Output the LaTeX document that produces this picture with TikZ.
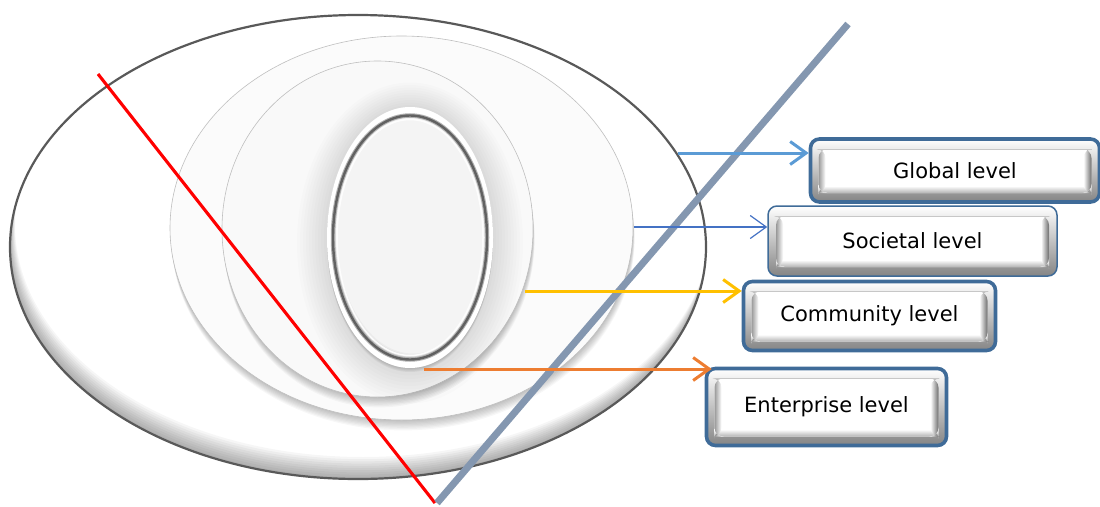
\documentclass[tikz,border=0pt]{standalone}
\usepackage{fontspec}
\newfontfamily\lblfont{DejaVu Sans}
\usetikzlibrary{arrows.meta,calc}

\definecolor{boxblue}{HTML}{3F6B98}
\definecolor{slateline}{HTML}{8497B0}
\definecolor{globalarr}{HTML}{5B9BD5}
\definecolor{socarr}{HTML}{4472C4}
\definecolor{commarr}{HTML}{FFC000}
\definecolor{entarr}{HTML}{ED7D31}
\definecolor{rimgray}{HTML}{595959}
\definecolor{ringgray}{HTML}{616161}
\definecolor{faceA}{HTML}{FBFBFB}
\definecolor{faceB}{HTML}{F9F9F9}
\definecolor{faceC}{HTML}{F4F4F4}

\tikzset{
  lvlbox/.style={rectangle, rounded corners=9pt, draw=boxblue, line width=3.6pt,
    top color=white, bottom color=black!48, inner sep=0pt, text=black,
    font=\lblfont\fontsize{21}{25}\selectfont,
    path picture={
      \coordinate (ia) at ([shift={(8pt,-10pt)}]path picture bounding box.north west);
      \coordinate (ib) at ([shift={(-8pt,9pt)}]path picture bounding box.south east);
      \fill[white] (ia) rectangle (ib);
      \shade[top color=white, bottom color=black!30] ([yshift=7pt]ia |- ib) rectangle (ib);
      \shade[left color=black!40, right color=white] (ia) rectangle ([xshift=7pt]ia |- ib);
      \shade[left color=white, right color=black!58] ([xshift=-8pt]ib |- ia) rectangle (ib);
      \draw[black!22, line width=1pt] (ia) -- (ia -| ib);
    }},
  levelarrow/.style={line width=3pt, -{Straight Barb[length=16pt,width=23pt]}},
  plate/.style={draw=black!25, line width=0.6pt}
}

\begin{document}
\begin{tikzpicture}[x=1pt,y=-1pt]
\useasboundingbox (0,0) rectangle (1100,506);

% outermost plate with a soft shadow along its lower inside edge
\fill[white] (358,247) ellipse [x radius=348pt, y radius=232pt];
\begin{scope}
  \clip (358,247) ellipse [x radius=348pt, y radius=232pt];
  \foreach \k in {1,...,10}
    \fill[black, opacity=0.035, even odd rule]
      (358,247) ellipse [x radius=348pt, y radius=232pt]
      (358+0.5*\k,247-2.2*\k) ellipse [x radius=348pt, y radius=232pt];
\end{scope}
\draw[rimgray, line width=2.2pt] (358,247) ellipse [x radius=348pt, y radius=232pt];

% second plate
\foreach \k in {1,...,8}
  \fill[black, opacity=0.03] (401.5+0.2*\k,228+1.3*\k) ellipse [x radius=231.5pt, y radius=192pt];
\fill[faceA] (401.5,228) ellipse [x radius=231.5pt, y radius=192pt];
\draw[plate] (401.5,228) ellipse [x radius=231.5pt, y radius=192pt];

% third plate
\foreach \k in {1,...,8}
  \fill[black, opacity=0.03] (377.5+0.2*\k,229+1.3*\k) ellipse [x radius=155.5pt, y radius=168pt];
\fill[faceB] (377.5,229) ellipse [x radius=155.5pt, y radius=168pt];
\draw[plate] (377.5,229) ellipse [x radius=155.5pt, y radius=168pt];

% central oval: halo, white rim, dark ring, face
\foreach \k in {1,...,10}
  \fill[black, opacity=0.01] (410,238+0.5*\k) ellipse [x radius=83pt+3*\k pt, y radius=130.5pt+3*\k pt];
\foreach \k in {1,...,5}
  \fill[black, opacity=0.035] (410,237.5+0.8*\k) ellipse [x radius=83pt, y radius=130.5pt];
\fill[white] (410,237.5) ellipse [x radius=83pt, y radius=130.5pt];
\fill[faceC] (410,237.5) ellipse [x radius=77pt, y radius=122pt];
\begin{scope}
  \clip (410,237.5) ellipse [x radius=77pt, y radius=122pt];
  \foreach \k in {1,...,5}
    \fill[black, opacity=0.03, even odd rule]
      (410,237.5) ellipse [x radius=77pt, y radius=122pt]
      (410+0.6*\k,237.5-1.2*\k) ellipse [x radius=77pt, y radius=122pt];
  \draw[white, line width=1.5pt, opacity=0.9] (410,237.5) ellipse [x radius=73pt, y radius=118pt];
\end{scope}
\draw[black!30, line width=4.5pt] (410,237.5) ellipse [x radius=77pt, y radius=122pt];
\draw[ringgray, line width=2.4pt] (410,237.5) ellipse [x radius=77pt, y radius=122pt];

% the two crossing lines
\coordinate (redA) at (98,74);
\coordinate (redB) at (435,503);
\draw[red, line width=3.1pt] (redA) -- (redB);
\coordinate (slA) at (848,24);
\coordinate (slB) at (437,503);
\draw[slateline, line width=7pt] (slA) -- (slB);

% level boxes
\node[lvlbox, minimum width=289pt, minimum height=63pt] (glob) at (955,170.5) {Global level};
\node[lvlbox, line width=1.5pt, minimum width=289pt, minimum height=70pt] (soc) at (912.5,241) {Societal level};
\node[lvlbox, minimum width=252pt, minimum height=69pt] (comm) at (869.5,316) {Community level};
\node[lvlbox, minimum width=240pt, minimum height=77pt] (ent) at (826.5,407) {Enterprise level};

% arrows from the plates to the boxes
\coordinate (gs) at (678,153);
\coordinate (ss) at (634,227);
\coordinate (cs) at (525,291);
\coordinate (es) at (424,369);
\draw[levelarrow, globalarr] (gs) -- (gs -| glob.west);
\draw[socarr, line width=1.2pt, -{Straight Barb[length=16pt,width=23pt]}] (ss) -- (ss -| soc.west);
\draw[levelarrow, commarr] (cs) -- (cs -| comm.west);
\draw[levelarrow, entarr] (es) -- ($(es -| ent.west)+(7,0)$);
\end{tikzpicture}
\end{document}
